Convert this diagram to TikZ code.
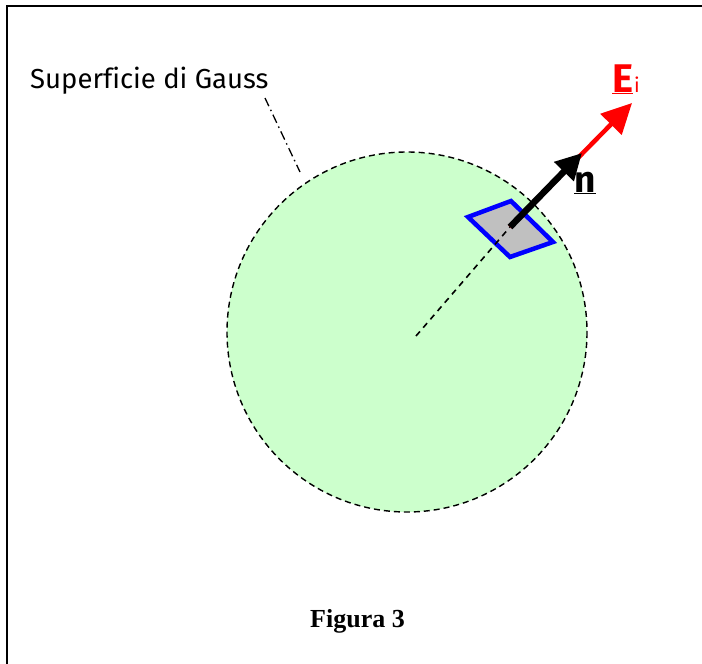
\documentclass[tikz,border=0pt]{standalone}
\usepackage{fontspec}
\setmainfont{Liberation Serif}
\newfontfamily\labfont[Ligatures=NoCommon]{Fira Sans}
\usetikzlibrary{arrows.meta}
\definecolor{spherefill}{HTML}{CCFFCC}
\definecolor{patchfill}{HTML}{C0C0C0}
\tikzset{
  frameline/.style={line width=2.2pt, black},
  gausssurf/.style={draw=black, fill=spherefill, line width=1.4pt, dash pattern=on 6pt off 4pt},
  radiusline/.style={line width=1.6pt, dash pattern=on 6pt off 5pt},
  leader/.style={line width=1.3pt, dash pattern=on 9pt off 4pt on 1.5pt off 4pt},
  patchbox/.style={draw=blue, fill=patchfill, line width=4.5pt, line join=miter},
  evec/.style={red, line width=4.5pt, -{Triangle[length=30pt,width=29pt]}},
  nvec/.style={black, line width=6.5pt, -{Triangle[length=26pt,width=26pt]}},
  lab/.style={font=\labfont\fontsize{27.5}{32}\selectfont, anchor=base west, inner sep=0pt},
}
\begin{document}
\begin{tikzpicture}[x=1pt,y=-1pt]
\useasboundingbox (0,0) rectangle (702,664);
% frame (only left and top edges visible)
\coordinate (fbl) at (7,664);
\coordinate (ftl) at (7,6);
\coordinate (ftr) at (702,6);
\draw[frameline] (fbl) -- (ftl) -- (ftr);
% Gauss surface
\coordinate (C) at (407,332);
\draw[gausssurf] (C) circle[radius=180];
% radius dashed
\coordinate (P) at (510,227);
\coordinate (R0) at (416,336);
% patch
\coordinate (q1) at (468,217);
\coordinate (q2) at (511,201);
\coordinate (q3) at (553,242);
\coordinate (q4) at (510,257);
\draw[patchbox] (q1) -- (q2) -- (q3) -- (q4) -- cycle;
\draw[radiusline] (R0) -- (P);
% vectors
\coordinate (Etip) at (632,103);
\coordinate (ntip) at (582,153);
\draw[evec] (P) -- (Etip);
\draw[nvec] (P) -- (ntip);
% labels
\node[lab, font=\labfont\bfseries\fontsize{40}{44}\selectfont, text=red] (Elab) at (612,92) {\underline{E}\kern1pt\raisebox{0pt}{\fontsize{20}{22}\selectfont\mdseries i}};
\node[lab, font=\labfont\bfseries\fontsize{37}{40}\selectfont] (nlab) at (574,192) {\underline{n}};
\node[lab] (sup) at (30,88) {Superficie di Gauss};
\coordinate (L1) at (265,98);
\coordinate (L2) at (300,172);
\draw[leader] (L1) -- (L2);
\node[anchor=base west, inner sep=0pt, font=\bfseries\fontsize{26}{30}\selectfont] (fig) at (310,627) {Figura 3};
\end{tikzpicture}
\end{document}
